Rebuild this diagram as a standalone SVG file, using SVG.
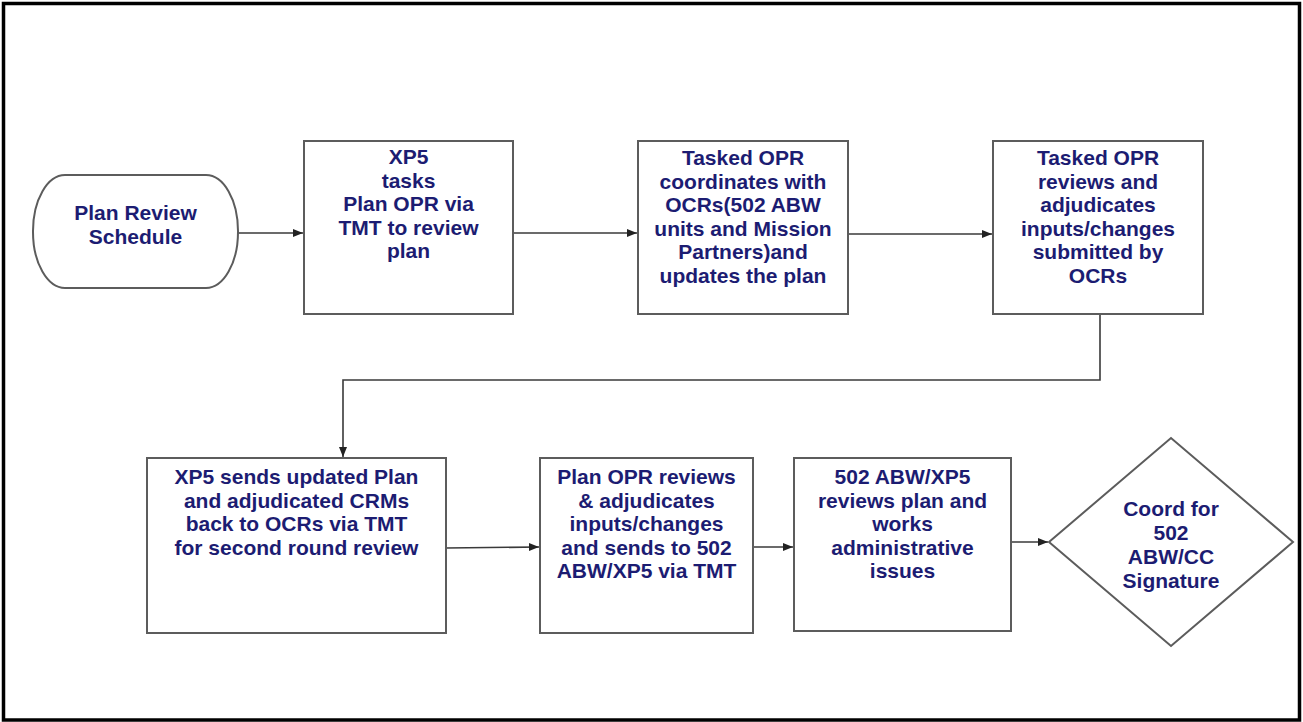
<svg xmlns="http://www.w3.org/2000/svg" width="1303" height="722" viewBox="0 0 1303 722">
<style>
.box{fill:#ffffff;stroke:#5c5c5c;stroke-width:2}
.t{font-family:"Liberation Sans",Arial,sans-serif;font-weight:bold;font-size:21px;fill:#1c1c72;text-anchor:middle}
.c{fill:none;stroke:#3a3a3a;stroke-width:1.6}
</style>
<defs>
<marker id="ah" viewBox="0 0 10 10" refX="10" refY="5" markerWidth="10" markerHeight="10" markerUnits="userSpaceOnUse" orient="auto">
<path d="M0,1 L10,5 L0,9 Z" fill="#222"/>
</marker>
</defs>
<rect x="0" y="0" width="1303" height="722" fill="#ffffff"/>
<rect x="3.5" y="3.5" width="1296" height="716.5" fill="none" stroke="#000" stroke-width="3.5"/>

<g id="connectors">
<path class="c" d="M238,233 H303" marker-end="url(#ah)"/>
<path class="c" d="M513,233 H637" marker-end="url(#ah)"/>
<path class="c" d="M848,234 H992" marker-end="url(#ah)"/>
<path class="c" d="M1100,314 V380 H343 V457" marker-end="url(#ah)"/>
<path class="c" d="M446,548 L539,547" marker-end="url(#ah)"/>
<path class="c" d="M753,547 H793" marker-end="url(#ah)"/>
<path class="c" d="M1011,542 H1048" marker-end="url(#ah)"/>
</g>

<g id="start">
<rect class="box" x="33" y="175" width="205" height="113" rx="32" ry="56"/>
<text class="t"><tspan x="135.5" y="220">Plan Review</tspan><tspan x="135.5" y="243.5">Schedule</tspan></text>
</g>

<g id="n1">
<rect class="box" x="304" y="141" width="209" height="173"/>
<text class="t"><tspan x="408.5" y="164">XP5</tspan><tspan x="408.5" y="187.5">tasks</tspan><tspan x="408.5" y="211">Plan OPR via</tspan><tspan x="408.5" y="234.5">TMT to review</tspan><tspan x="408.5" y="258">plan</tspan></text>
</g>

<g id="n2">
<rect class="box" x="638" y="141" width="210" height="173"/>
<text class="t"><tspan x="743" y="165">Tasked OPR</tspan><tspan x="743" y="188.5">coordinates with</tspan><tspan x="743" y="212">OCRs(502 ABW</tspan><tspan x="743" y="235.5">units and Mission</tspan><tspan x="743" y="259">Partners)and</tspan><tspan x="743" y="282.5">updates the plan</tspan></text>
</g>

<g id="n3">
<rect class="box" x="993" y="141" width="210" height="173"/>
<text class="t"><tspan x="1098" y="165">Tasked OPR</tspan><tspan x="1098" y="188.5">reviews and</tspan><tspan x="1098" y="212">adjudicates</tspan><tspan x="1098" y="235.5">inputs/changes</tspan><tspan x="1098" y="259">submitted by</tspan><tspan x="1098" y="282.5">OCRs</tspan></text>
</g>

<g id="n4">
<rect class="box" x="147" y="458" width="299" height="175"/>
<text class="t"><tspan x="296.5" y="484">XP5 sends updated Plan</tspan><tspan x="296.5" y="507.5">and adjudicated CRMs</tspan><tspan x="296.5" y="531">back to OCRs via TMT</tspan><tspan x="296.5" y="554.5">for second round review</tspan></text>
</g>

<g id="n5">
<rect class="box" x="540" y="458" width="213" height="175"/>
<text class="t"><tspan x="646.5" y="484">Plan OPR reviews</tspan><tspan x="646.5" y="507.5">&amp; adjudicates</tspan><tspan x="646.5" y="531">inputs/changes</tspan><tspan x="646.5" y="554.5">and sends to 502</tspan><tspan x="646.5" y="578">ABW/XP5 via TMT</tspan></text>
</g>

<g id="n6">
<rect class="box" x="794" y="458" width="217" height="173"/>
<text class="t"><tspan x="902.5" y="484">502 ABW/XP5</tspan><tspan x="902.5" y="507.5">reviews plan and</tspan><tspan x="902.5" y="531">works</tspan><tspan x="902.5" y="554.5">administrative</tspan><tspan x="902.5" y="578">issues</tspan></text>
</g>

<g id="decision">
<polygon class="box" points="1049,542 1171,438 1293,542 1171,646"/>
<text class="t"><tspan x="1171" y="516">Coord for</tspan><tspan x="1171" y="540">502</tspan><tspan x="1171" y="564">ABW/CC</tspan><tspan x="1171" y="588">Signature</tspan></text>
</g>
</svg>
